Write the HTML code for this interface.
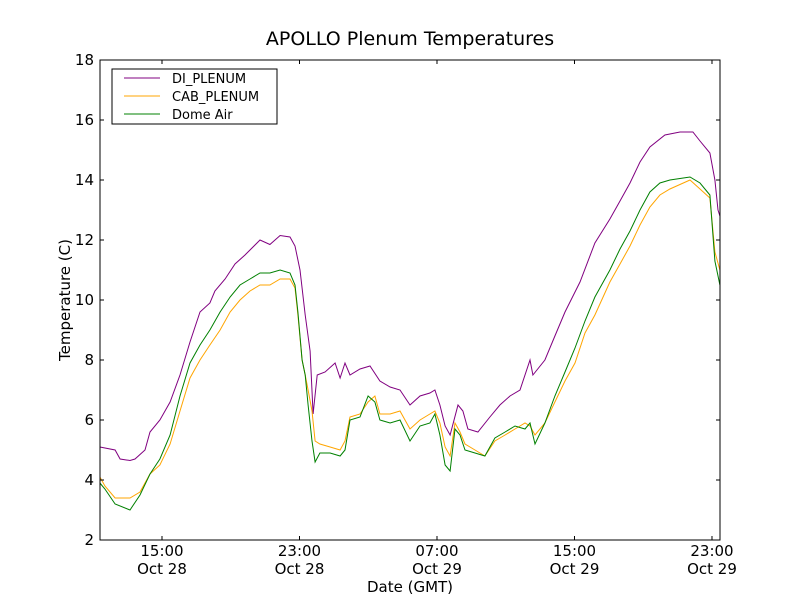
<!DOCTYPE html>
<html><head><meta charset="utf-8"><style>
body{margin:0;background:#fff}
svg text{font-family:"DejaVu Sans","Liberation Sans",sans-serif;fill:#000}
</style></head><body>
<svg id="chart" width="800" height="600" xmlns="http://www.w3.org/2000/svg">
<rect width="800" height="600" fill="#fff"/>
<text x="410" y="45" font-size="19" text-anchor="middle">APOLLO Plenum Temperatures</text>
<g id="series"></g>
<g id="axes"></g>
<rect x="100" y="60" width="620" height="480" fill="none" stroke="#000" stroke-width="1"/>
<text x="410" y="592" font-size="15" text-anchor="middle">Date (GMT)</text>
<text transform="translate(70,300) rotate(-90)" font-size="15" text-anchor="middle">Temperature (C)</text>
<g>
<rect x="112" y="69" width="165" height="55" fill="#fff" stroke="#000"/>
<g><line x1="124" y1="78" x2="160" y2="78" stroke="#800080"/><text x="172" y="83" font-size="13">DI_PLENUM</text></g>
<g><line x1="124" y1="96" x2="160" y2="96" stroke="#ffa500"/><text x="172" y="101" font-size="13">CAB_PLENUM</text></g>
<g><line x1="124" y1="114" x2="160" y2="114" stroke="#008000"/><text x="172" y="119" font-size="13">Dome Air</text></g>
</g>
</svg>
<script>
const diHours=[11.39,12.27,12.56,13.14,13.43,14.01,14.30,14.88,15.47,16.05,16.63,17.21,17.79,18.08,18.67,19.25,19.83,20.70,21.28,21.87,22.45,22.74,23.03,23.33,23.62,23.79,24.03,24.49,25.07,25.36,25.65,25.94,26.52,27.10,27.68,28.27,28.85,29.43,30.01,30.59,30.88,31.17,31.47,31.76,32.22,32.51,32.80,33.38,34.08,34.66,35.25,35.83,36.41,36.58,37.28,37.86,38.45,39.32,40.19,41.06,41.65,42.23,42.81,43.39,44.26,45.14,45.89,46.30,46.88,47.17,47.35,47.46];
const diPlenum=[5.1,5.0,4.7,4.65,4.7,5.0,5.6,6.0,6.6,7.5,8.6,9.6,9.9,10.3,10.7,11.2,11.5,12.0,11.85,12.15,12.1,11.8,11.0,9.5,8.3,6.2,7.5,7.6,7.9,7.4,7.9,7.5,7.7,7.8,7.3,7.1,7.0,6.5,6.8,6.9,7.0,6.5,5.8,5.5,6.5,6.3,5.7,5.6,6.1,6.5,6.8,7.0,8.0,7.5,8.0,8.8,9.6,10.6,11.9,12.7,13.3,13.9,14.6,15.1,15.5,15.6,15.6,15.3,14.9,14.0,13.0,12.8];
const hours=[11.39,11.68,12.27,13.14,13.72,14.30,14.88,15.47,16.05,16.63,17.21,17.79,18.38,18.96,19.54,20.12,20.70,21.28,21.87,22.45,22.74,22.91,23.15,23.33,23.50,23.73,23.91,24.19,24.78,25.36,25.65,25.94,26.52,26.99,27.39,27.68,28.27,28.85,29.43,30.01,30.59,30.88,31.17,31.47,31.76,32.05,32.34,32.63,33.21,33.79,34.37,34.96,35.54,36.12,36.41,36.70,37.28,37.86,38.45,39.03,39.61,40.19,41.06,41.65,42.23,42.81,43.39,43.97,44.55,45.72,46.30,46.88,47.17,47.46];
const cabPlenum=[4.1,3.8,3.4,3.4,3.6,4.2,4.5,5.2,6.3,7.4,8.0,8.5,9.0,9.6,10.0,10.3,10.5,10.5,10.7,10.7,10.4,9.5,8.0,7.5,7.0,6.3,5.3,5.2,5.1,5.0,5.3,6.1,6.2,6.6,6.8,6.2,6.2,6.3,5.7,6.0,6.2,6.3,5.9,5.1,4.8,5.9,5.6,5.2,5.0,4.8,5.3,5.5,5.7,5.9,5.8,5.5,5.9,6.6,7.3,7.9,8.9,9.5,10.6,11.2,11.8,12.5,13.1,13.5,13.7,14.0,13.7,13.4,11.6,11.0];
const domeAir=[3.9,3.7,3.2,3.0,3.5,4.2,4.7,5.5,6.8,7.9,8.5,9.0,9.6,10.1,10.5,10.7,10.9,10.9,11.0,10.9,10.5,9.6,8.0,7.5,6.5,5.3,4.6,4.9,4.9,4.8,5.0,6.0,6.1,6.8,6.6,6.0,5.9,6.0,5.3,5.8,5.9,6.2,5.5,4.5,4.3,5.7,5.5,5.0,4.9,4.8,5.4,5.6,5.8,5.7,5.9,5.2,5.9,6.8,7.6,8.4,9.3,10.1,11.0,11.7,12.3,13.0,13.6,13.9,14.0,14.1,13.9,13.5,11.3,10.5];
const yTicks=[2,4,6,8,10,12,14,16,18];
const xTickHours=[15,23,31,39,47];
const xTickTimes=["15:00","23:00","07:00","15:00","23:00"];
const xTickDates=["Oct 28","Oct 28","Oct 29","Oct 29","Oct 29"];
const X0=100,X1=720,Y0=60,Y1=540,H0=11.393,H1=47.466,V0=2,V1=18;
const xs=h=>X0+(h-H0)/(H1-H0)*(X1-X0);
const ys=v=>Y1-(v-V0)/(V1-V0)*(Y1-Y0);
const NS="http://www.w3.org/2000/svg";
const sg=document.getElementById('series'),ag=document.getElementById('axes');
function line(ht,vals,color,name){
  const p=document.createElementNS(NS,'path');
  
  
  p.setAttribute('d',vals.map((v,i)=>(i?'L':'M')+xs(ht[i]).toFixed(1)+','+ys(v).toFixed(1)).join(''));
  p.setAttribute('fill','none');p.setAttribute('stroke',color);p.setAttribute('stroke-width','1');
  sg.appendChild(p);
}
line(diHours,diPlenum,'#800080','series-di-plenum');
line(hours,cabPlenum,'#ffa500','series-cab-plenum');
line(hours,domeAir,'#008000','series-dome-air');
yTicks.forEach(v=>{
  const y=ys(v);
  const t=document.createElementNS(NS,'path');
  
  
  t.setAttribute('d',`M${X0},${y}h4M${X1},${y}h-4`);t.setAttribute('stroke','#000');
  ag.appendChild(t);
  const l=document.createElementNS(NS,'text');
  
  
  l.setAttribute('x',X0-6);l.setAttribute('y',y+5);l.setAttribute('font-size','15');l.setAttribute('text-anchor','end');
  l.textContent=v;ag.appendChild(l);
});
xTickHours.forEach((h,i)=>{
  const x=xs(h);
  const t=document.createElementNS(NS,'path');
  
  
  t.setAttribute('d',`M${x},${Y1}v-4M${x},${Y0}v4`);t.setAttribute('stroke','#000');
  ag.appendChild(t);
  const l=document.createElementNS(NS,'text');
  
  
  l.setAttribute('x',x);l.setAttribute('y',556);l.setAttribute('font-size','15');l.setAttribute('text-anchor','middle');
  l.textContent=xTickTimes[i];ag.appendChild(l);
  const d=document.createElementNS(NS,'text');
  
  
  d.setAttribute('x',x);d.setAttribute('y',574);d.setAttribute('font-size','15');d.setAttribute('text-anchor','middle');
  d.textContent=xTickDates[i];ag.appendChild(d);
});
</script>
</body></html>
